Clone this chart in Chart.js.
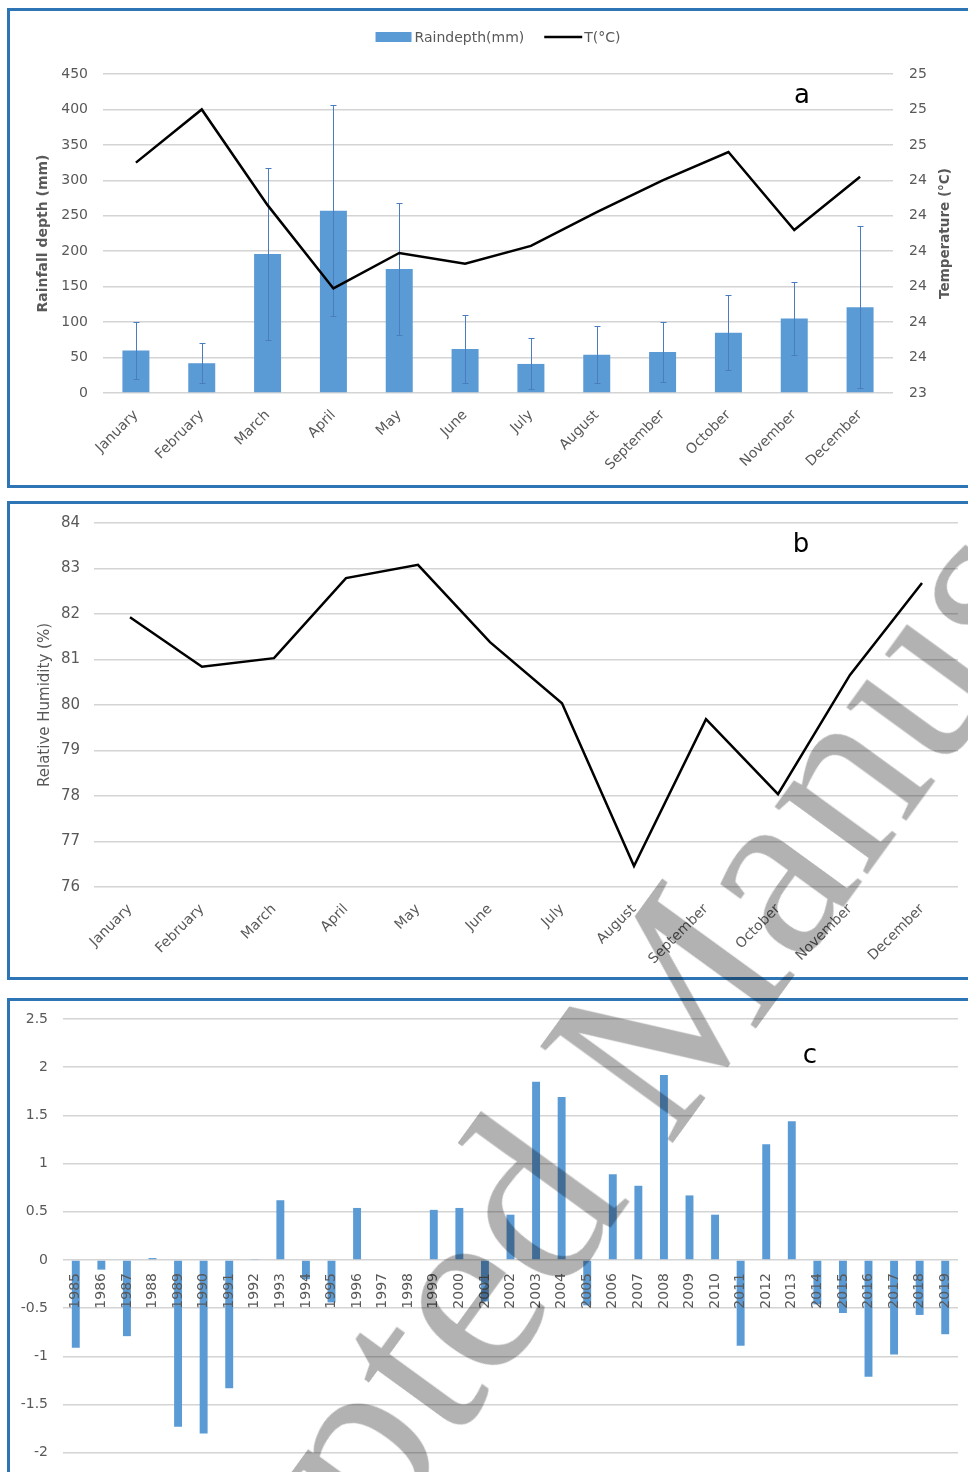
<!DOCTYPE html>
<html>
<head>
<meta charset="utf-8">
<script src="https://cdn.jsdelivr.net/npm/chart.js@4.4.1/dist/chart.umd.min.js"></script>
<style>
  body { margin: 0; width: 968px; height: 1472px; overflow: hidden; background: #fff; position: relative; font-family: "DejaVu Sans", sans-serif; }
  .panel { position: absolute; left: 7px; width: 1000px; border: 3px solid #2e75b6; box-sizing: border-box; }
  .wrap { position: absolute; left: 0; width: 968px; }
  #wm { position: absolute; left: -92px; top: 1840px; font: 250px/1 "Liberation Serif", serif; color: rgba(0,0,0,0.3);
        transform: rotate(-54deg); transform-origin: 0 0; white-space: nowrap; pointer-events: none; }
</style>
</head>
<body>
<div class="panel" style="top:8px;height:480px"></div>
<div class="panel" style="top:501px;height:479px"></div>
<div class="panel" style="top:998px;height:600px"></div>
<div class="wrap" style="top:8px;height:480px"><canvas id="chartA"></canvas></div>
<div class="wrap" style="top:500px;height:480px"><canvas id="chartB"></canvas></div>
<div class="wrap" style="top:995px;height:540px"><canvas id="chartC"></canvas></div>
<div id="wm">Accepted Manuscript</div>

<script>
// --- data ---
const months = ['January', 'February', 'March', 'April', 'May', 'June', 'July', 'August', 'September', 'October', 'November', 'December'];
const rainDepth = [60, 42, 196, 257, 175, 62, 41, 54, 58, 85, 105, 121];
const rainSd = [40, 28, 121, 149, 93, 48, 36, 40, 42, 53, 52, 114];
const temperature = [24.60, 24.90, 24.36, 23.89, 24.09, 24.03, 24.13, 24.32, 24.50, 24.66, 24.22, 24.52];
const tempTickLabels = ['23', '24', '24', '24', '24', '24', '24', '25', '25', '25'];
const humidity = [81.93, 80.84, 81.03, 82.79, 83.08, 81.38, 80.04, 76.46, 79.69, 78.04, 80.66, 82.68];
const years = ['1985', '1986', '1987', '1988', '1989', '1990', '1991', '1992', '1993', '1994', '1995', '1996',
  '1997', '1998', '1999', '2000', '2001', '2002', '2003', '2004', '2005', '2006', '2007', '2008', '2009',
  '2010', '2011', '2012', '2013', '2014', '2015', '2016', '2017', '2018', '2019'];
const rainAnomaly = [-0.91, -0.10, -0.79, 0.02, -1.73, -1.80, -1.33, 0.01, 0.62, -0.20, -0.44, 0.54,
  0, 0, 0.52, 0.54, -0.43, 0.47, 1.85, 1.69, -0.47, 0.89, 0.77, 1.92, 0.67,
  0.47, -0.89, 1.20, 1.44, -0.46, -0.55, -1.21, -0.98, -0.57, -0.77];

const GREY = '#595959';
const GRID = '#d4d4d4';
const BLUE = '#5b9bd5';
Chart.defaults.font.family = '"DejaVu Sans", sans-serif';
Chart.defaults.animation = false;

// error bars on top of the rain bars (drawn before the temperature line)
const errorBars = {
  id: 'errorBars',
  afterDatasetDraw(chart, args) {
    if (args.index !== 0) return;
    const y = chart.scales.y;
    const ctx = chart.ctx;
    ctx.save();
    ctx.strokeStyle = '#4a7cc0';
    ctx.lineWidth = 1;
    args.meta.data.forEach((bar, i) => {
      const top = Math.round(y.getPixelForValue(rainDepth[i] + rainSd[i])) + 0.5;
      const bot = Math.round(y.getPixelForValue(Math.max(0, rainDepth[i] - rainSd[i]))) + 0.5;
      const x = Math.round(bar.x) + 0.5;
      ctx.beginPath();
      ctx.moveTo(x, top); ctx.lineTo(x, bot);
      ctx.moveTo(x - 3, top); ctx.lineTo(x + 3, top);
      ctx.moveTo(x - 3, bot); ctx.lineTo(x + 3, bot);
      ctx.stroke();
    });
    ctx.restore();
  }
};

// legend of panel a, centred over the plot
const legendA = {
  id: 'legendA',
  afterDraw(chart) {
    const ctx = chart.ctx;
    const [bars, line] = chart.data.datasets;
    ctx.save();
    ctx.font = '14px "DejaVu Sans"';
    ctx.textBaseline = 'middle';
    const w1 = ctx.measureText(bars.label).width;
    const w2 = ctx.measureText(line.label).width;
    const total = 36 + 3 + w1 + 20 + 38 + 2 + w2;
    let x = (chart.chartArea.left + chart.chartArea.right) / 2 - total / 2;
    const y = 29;
    ctx.fillStyle = bars.backgroundColor;
    ctx.fillRect(x, y - 5, 36, 10);
    x += 39;
    ctx.fillStyle = GREY;
    ctx.fillText(bars.label, x, y + 1);
    x += w1 + 20;
    ctx.strokeStyle = line.borderColor;
    ctx.lineWidth = 2.5;
    ctx.beginPath(); ctx.moveTo(x, y); ctx.lineTo(x + 38, y); ctx.stroke();
    x += 40;
    ctx.fillText(line.label, x, y + 1);
    ctx.restore();
  }
};

// right-hand axis title reading upwards
const rightTitle = {
  id: 'rightTitle',
  afterDraw(chart, args, opts) {
    if (!opts.text) return;
    const ctx = chart.ctx;
    const ca = chart.chartArea;
    ctx.save();
    ctx.translate(opts.x, (ca.top + ca.bottom) / 2);
    ctx.rotate(-Math.PI / 2);
    ctx.font = 'bold 13.5px "DejaVu Sans"';
    ctx.fillStyle = GREY;
    ctx.textAlign = 'center';
    ctx.textBaseline = 'middle';
    ctx.fillText(opts.text, 0, 0);
    ctx.restore();
  }
};

// panel letter (a, b, c)
const panelLabel = {
  id: 'panelLabel',
  afterDraw(chart, args, opts) {
    if (!opts.text) return;
    const ctx = chart.ctx;
    ctx.save();
    ctx.font = '26px "DejaVu Sans"';
    ctx.fillStyle = '#000';
    ctx.textAlign = 'center';
    ctx.textBaseline = 'alphabetic';
    ctx.fillText(opts.text, opts.x, opts.y);
    ctx.restore();
  }
};

const tickFont = size => ({ size: size });

// --- panel a ---
new Chart(document.getElementById('chartA'), {
  type: 'bar',
  data: {
    labels: months,
    datasets: [
      { label: 'Raindepth(mm)', data: rainDepth, backgroundColor: BLUE, yAxisID: 'y', order: 1,
        categoryPercentage: 0.41, barPercentage: 1 },
      { type: 'line', label: 'T(°C)', data: temperature, borderColor: '#000', borderWidth: 2.5,
        pointRadius: 0, tension: 0, yAxisID: 'y1', order: 0 }
    ]
  },
  options: {
    responsive: true,
    maintainAspectRatio: false,
    layout: { padding: { top: 66, left: 0, right: 0, bottom: 0 } },
    plugins: {
      legend: { display: false },
      tooltip: { enabled: false },
      rightTitle: { text: 'Temperature (°C)', x: 945 },
      panelLabel: { text: 'a', x: 802, y: 95 }
    },
    scales: {
      x: {
        offset: true,
        grid: { display: false },
        border: { display: false },
        ticks: { color: GREY, font: tickFont(14), minRotation: 45, maxRotation: 45, padding: 6, autoSkip: false },
        afterFit: s => { s.height = 95; }
      },
      y: {
        position: 'left', min: 0, max: 450,
        ticks: { stepSize: 50, color: GREY, font: tickFont(14), padding: 15 },
        grid: { color: GRID, lineWidth: 1.5, drawTicks: false },
        border: { display: false },
        title: { display: true, text: 'Rainfall depth (mm)', color: GREY, font: { size: 14, weight: 'bold' }, padding: { top: 35, bottom: 0 } },
        afterFit: s => { s.width = 103; }
      },
      y1: {
        position: 'right', min: 23.3, max: 25.1,
        ticks: { count: 10, color: GREY, font: tickFont(14), padding: 16, callback: (v, i) => tempTickLabels[i] },
        grid: { display: false, drawTicks: false },
        border: { display: false },
        afterFit: s => { s.width = 75; }
      }
    }
  },
  plugins: [errorBars, legendA, rightTitle, panelLabel]
});

// --- panel b ---
new Chart(document.getElementById('chartB'), {
  type: 'line',
  data: {
    labels: months,
    datasets: [
      { label: 'Relative Humidity (%)', data: humidity, borderColor: '#000', borderWidth: 2.5, pointRadius: 0, tension: 0 }
    ]
  },
  options: {
    responsive: true,
    maintainAspectRatio: false,
    layout: { padding: { top: 23, left: 0, right: 10, bottom: 0 } },
    plugins: {
      legend: { display: false },
      tooltip: { enabled: false },
      panelLabel: { text: 'b', x: 801, y: 52 }
    },
    scales: {
      x: {
        offset: true,
        grid: { display: false },
        border: { display: false },
        ticks: { color: GREY, font: tickFont(14), minRotation: 45, maxRotation: 45, padding: 6, autoSkip: false },
        afterFit: s => { s.height = 93; }
      },
      y: {
        min: 76, max: 84,
        ticks: { stepSize: 1, color: GREY, font: tickFont(15), padding: 14 },
        grid: { color: GRID, lineWidth: 1.5, drawTicks: false },
        border: { display: false },
        title: { display: true, text: 'Relative Humidity (%)', color: GREY, font: { size: 15 }, padding: { top: 36, bottom: 0 } },
        afterFit: s => { s.width = 94; }
      }
    }
  },
  plugins: [panelLabel]
});

// --- panel c ---
new Chart(document.getElementById('chartC'), {
  type: 'bar',
  data: {
    labels: years,
    datasets: [
      { label: 'Anomaly', data: rainAnomaly, backgroundColor: BLUE, categoryPercentage: 0.31, barPercentage: 1 }
    ]
  },
  options: {
    responsive: true,
    maintainAspectRatio: false,
    layout: { padding: { top: 24, left: 0, right: 10, bottom: 34 } },
    plugins: {
      legend: { display: false },
      tooltip: { enabled: false },
      panelLabel: { text: 'c', x: 810, y: 68 }
    },
    scales: {
      x: {
        position: { y: 0 },
        grid: { display: false },
        border: { display: false },
        ticks: { z: 1, color: GREY, font: tickFont(14), minRotation: 90, maxRotation: 90, padding: 5, autoSkip: false }
      },
      y: {
        min: -2.5, max: 2.5,
        ticks: { stepSize: 0.5, color: GREY, font: tickFont(14), padding: 15, callback: v => String(v) },
        grid: { color: GRID, lineWidth: 1.5, drawTicks: false },
        border: { display: false },
        afterFit: s => { s.width = 63; }
      }
    }
  },
  plugins: [panelLabel]
});
</script>
</body>
</html>
